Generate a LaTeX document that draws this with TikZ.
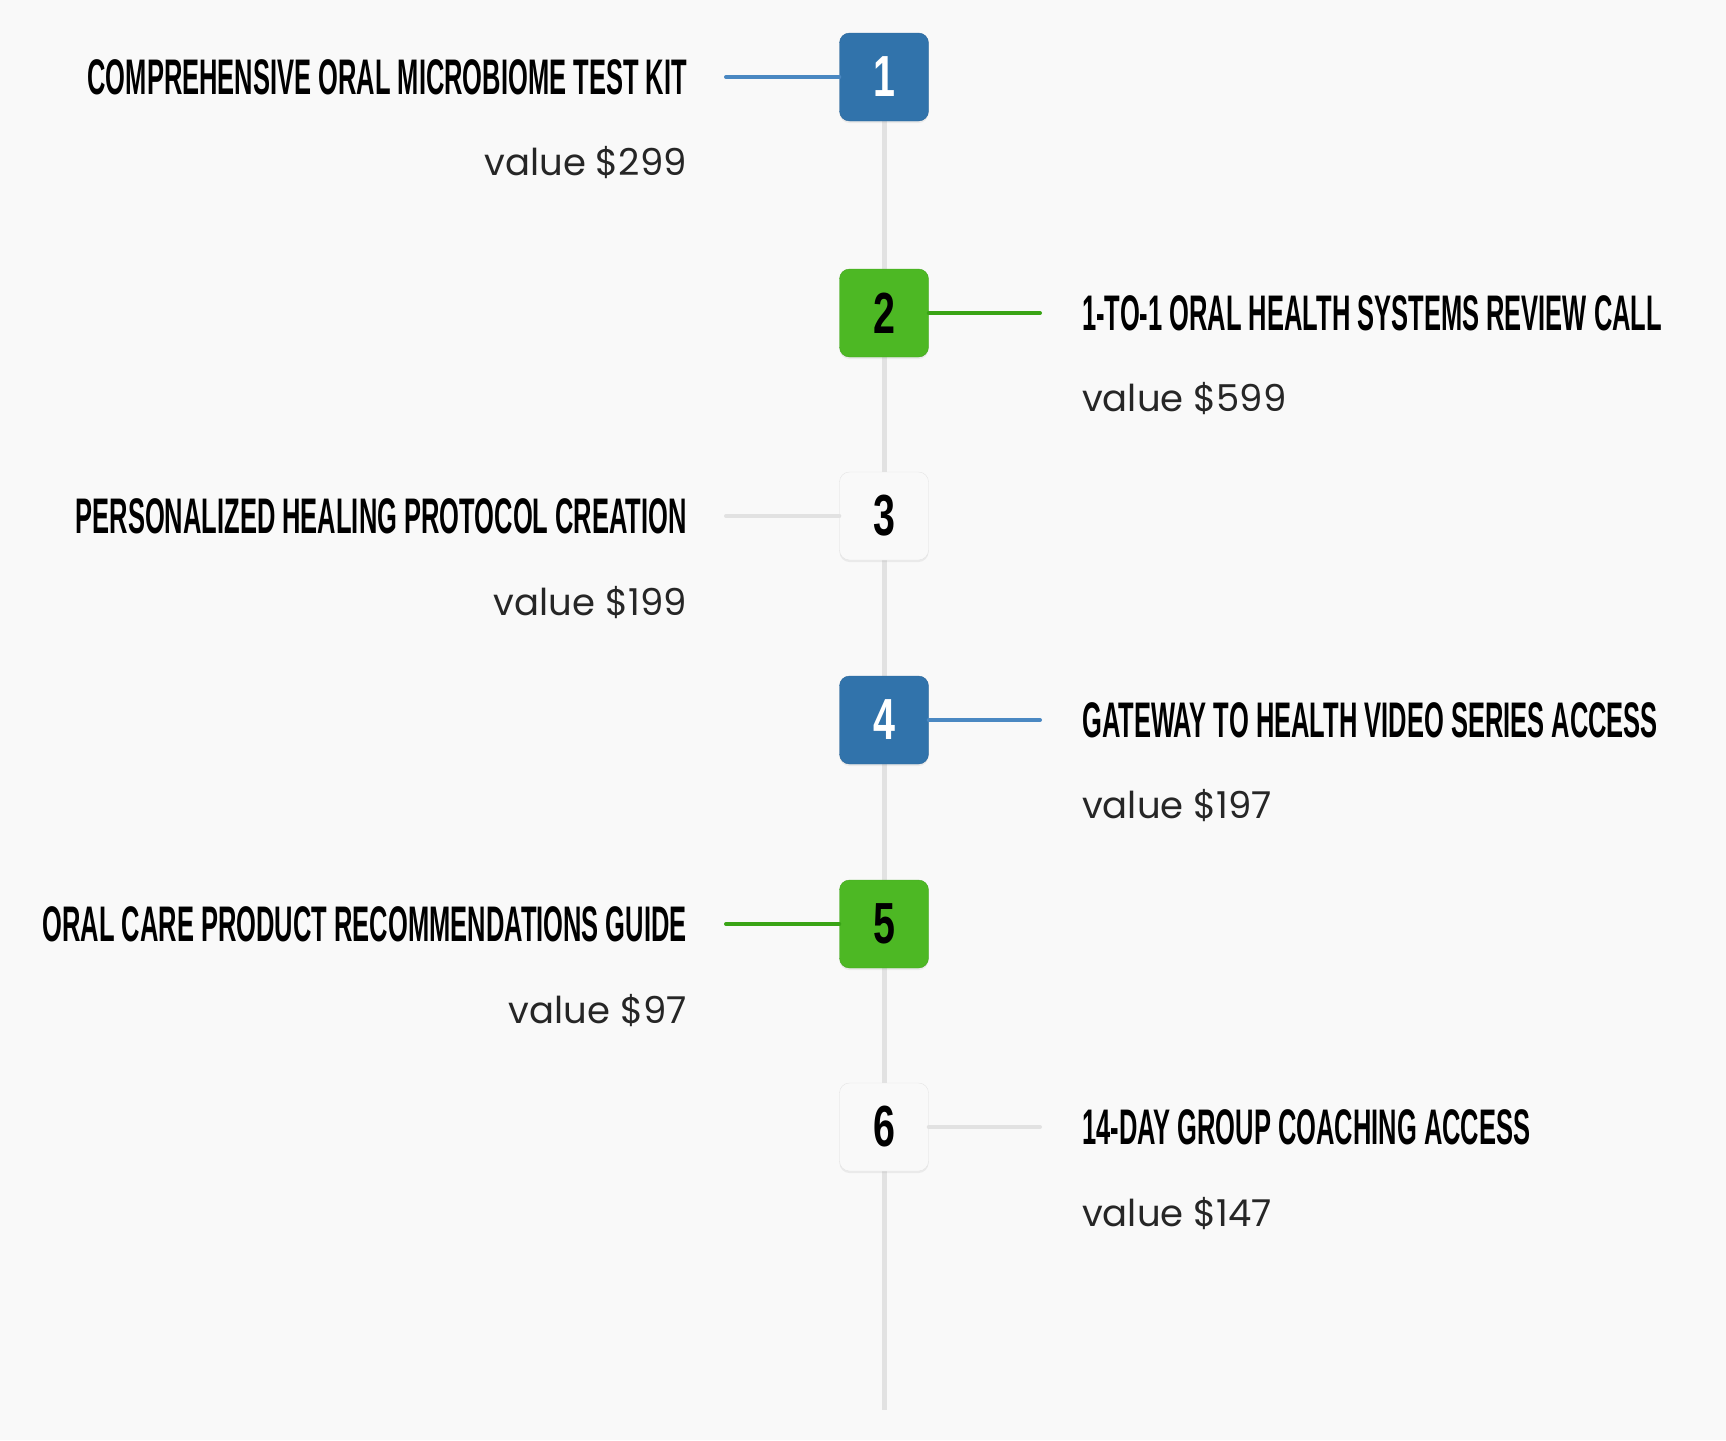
\documentclass[tikz,border=0pt]{standalone}
\usepackage{fontspec}
\usetikzlibrary{shadows}
\newfontfamily\headfont{Liberation Sans}[FakeStretch=0.51]
\newfontfamily\numfont{Liberation Sans}[FakeStretch=0.68]
\newfontfamily\valfont{Poppins}
\definecolor{bg}{HTML}{F9F9F9}
\definecolor{stepblue}{HTML}{3173AB}
\definecolor{stepgreen}{HTML}{4DB824}
\definecolor{lineblue}{HTML}{4A88C2}
\definecolor{linegreen}{HTML}{3AA416}
\definecolor{spinegray}{HTML}{E2E2E2}
\definecolor{boxedge}{HTML}{E4E4E4}

\begin{document}
\begin{tikzpicture}[x=1pt,y=-1pt]
\tikzstyle{numbox}=[rectangle, rounded corners=10pt, minimum width=89pt, minimum height=88pt,
  inner sep=0pt, drop shadow={opacity=0.12, shadow xshift=0pt, shadow yshift=-2pt},
  font=\numfont\bfseries\fontsize{58}{60}\selectfont]
\tikzstyle{bluebox}=[numbox, fill=stepblue, draw=stepblue!90!black, text=white]
\tikzstyle{greenbox}=[numbox, fill=stepgreen, draw=stepgreen!90!black, text=black]
\tikzstyle{whitebox}=[numbox, fill=bg, draw=boxedge, text=black]
\tikzstyle{title}=[inner sep=0pt, font=\headfont\bfseries\fontsize{50}{54}\selectfont]
\tikzstyle{val}=[inner sep=0pt, text=black!85, font=\valfont\fontsize{37}{40}\selectfont]
\tikzstyle{link}=[line width=4pt, line cap=round]
\fill[bg] (0,0) rectangle (1726,1440);
% spine behind the boxes
\coordinate (top) at (884,121);
\coordinate (bottom) at (884,1410);
\draw[spinegray, line width=5pt] (top) -- (bottom);
% boxes
\node[bluebox]  (b1) at (884,77)   {1};
\node[greenbox] (b2) at (884,313)  {2};
\node[whitebox] (b3) at (884,516)  {3};
\node[bluebox]  (b4) at (884,720)  {4};
\node[greenbox] (b5) at (884,924)  {5};
\node[whitebox] (b6) at (884,1127) {6};
% free ends of the links
\coordinate (c1) at (726,77);
\coordinate (c2) at (1040,313);
\coordinate (c3) at (726,516);
\coordinate (c4) at (1040,720);
\coordinate (c5) at (726,924);
\coordinate (c6) at (1040,1127);
\draw[link, lineblue]  (c1) -- (b1.west);
\draw[link, linegreen] (b2.east) -- (c2);
\draw[link, spinegray] (c3) -- (b3.west);
\draw[link, lineblue]  (b4.east) -- (c4);
\draw[link, linegreen] (c5) -- (b5.west);
\draw[link, spinegray] (b6.east) -- (c6);
% texts
\node[title, anchor=east] (t1) at (687,77)   {COMPREHENSIVE ORAL MICROBIOME TEST KIT};
\node[val,   anchor=east] (v1) at (687,163)  {value \$299};
\node[title, anchor=west] (t2) at (1082,313) {1-TO-1 ORAL HEALTH SYSTEMS REVIEW CALL};
\node[val,   anchor=west] (v2) at (1082,399) {value \$599};
\node[title, anchor=east] (t3) at (687,516)  {PERSONALIZED HEALING PROTOCOL CREATION};
\node[val,   anchor=east] (v3) at (687,603)  {value \$199};
\node[title, anchor=west] (t4) at (1082,720) {GATEWAY TO HEALTH VIDEO SERIES ACCESS};
\node[val,   anchor=west] (v4) at (1082,806) {value \$197};
\node[title, anchor=east] (t5) at (687,924)  {ORAL CARE PRODUCT RECOMMENDATIONS GUIDE};
\node[val,   anchor=east] (v5) at (687,1011) {value \$97};
\node[title, anchor=west] (t6) at (1082,1127) {14-DAY GROUP COACHING ACCESS};
\node[val,   anchor=west] (v6) at (1082,1214) {value \$147};
\end{tikzpicture}
\end{document}
